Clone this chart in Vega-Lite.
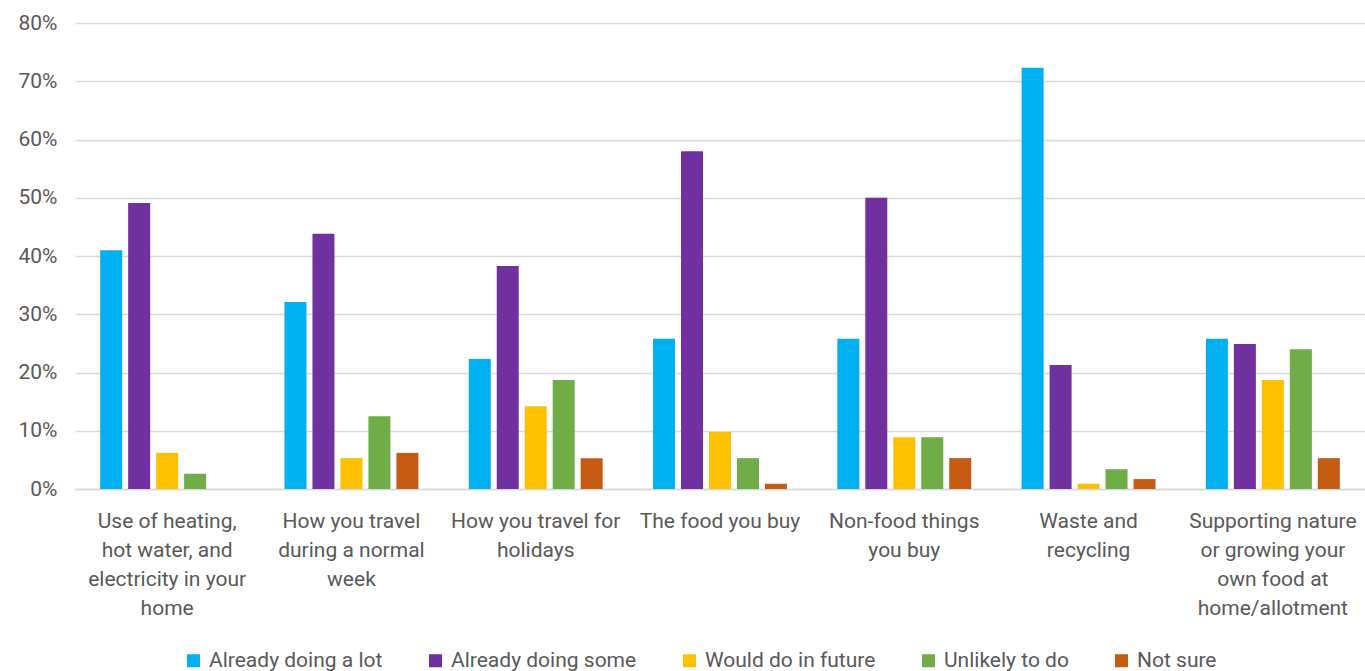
{
  "$schema": "https://vega.github.io/schema/vega-lite/v6.json",
  "width": 1290,
  "height": 466,
  "autosize": {"type": "none"},
  "padding": {"left": 75, "top": 23, "right": 0, "bottom": 182},
  "background": "white",
  "config": {
    "view": {"stroke": null},
    "font": "Roboto",
    "axis": {"labelFont": "Roboto", "labelColor": "#595959"},
    "legend": {"labelFont": "Roboto", "labelColor": "#595959"}
  },
  "data": {
    "values": [
      {"activity": "Use of heating,|hot water, and|electricity in your|home", "response": "Already doing a lot", "value": 0.410},
      {"activity": "Use of heating,|hot water, and|electricity in your|home", "response": "Already doing some", "value": 0.491},
      {"activity": "Use of heating,|hot water, and|electricity in your|home", "response": "Would do in future", "value": 0.062},
      {"activity": "Use of heating,|hot water, and|electricity in your|home", "response": "Unlikely to do", "value": 0.026},
      {"activity": "How you travel|during a normal|week", "response": "Already doing a lot", "value": 0.321},
      {"activity": "How you travel|during a normal|week", "response": "Already doing some", "value": 0.438},
      {"activity": "How you travel|during a normal|week", "response": "Would do in future", "value": 0.053},
      {"activity": "How you travel|during a normal|week", "response": "Unlikely to do", "value": 0.125},
      {"activity": "How you travel|during a normal|week", "response": "Not sure", "value": 0.062},
      {"activity": "How you travel for|holidays", "response": "Already doing a lot", "value": 0.223},
      {"activity": "How you travel for|holidays", "response": "Already doing some", "value": 0.383},
      {"activity": "How you travel for|holidays", "response": "Would do in future", "value": 0.142},
      {"activity": "How you travel for|holidays", "response": "Unlikely to do", "value": 0.187},
      {"activity": "How you travel for|holidays", "response": "Not sure", "value": 0.053},
      {"activity": "The food you buy", "response": "Already doing a lot", "value": 0.258},
      {"activity": "The food you buy", "response": "Already doing some", "value": 0.580},
      {"activity": "The food you buy", "response": "Would do in future", "value": 0.098},
      {"activity": "The food you buy", "response": "Unlikely to do", "value": 0.053},
      {"activity": "The food you buy", "response": "Not sure", "value": 0.009},
      {"activity": "Non-food things|you buy", "response": "Already doing a lot", "value": 0.258},
      {"activity": "Non-food things|you buy", "response": "Already doing some", "value": 0.500},
      {"activity": "Non-food things|you buy", "response": "Would do in future", "value": 0.089},
      {"activity": "Non-food things|you buy", "response": "Unlikely to do", "value": 0.089},
      {"activity": "Non-food things|you buy", "response": "Not sure", "value": 0.053},
      {"activity": "Waste and|recycling", "response": "Already doing a lot", "value": 0.723},
      {"activity": "Waste and|recycling", "response": "Already doing some", "value": 0.213},
      {"activity": "Waste and|recycling", "response": "Would do in future", "value": 0.009},
      {"activity": "Waste and|recycling", "response": "Unlikely to do", "value": 0.034},
      {"activity": "Waste and|recycling", "response": "Not sure", "value": 0.017},
      {"activity": "Supporting nature|or growing your|own food at|home/allotment", "response": "Already doing a lot", "value": 0.258},
      {"activity": "Supporting nature|or growing your|own food at|home/allotment", "response": "Already doing some", "value": 0.249},
      {"activity": "Supporting nature|or growing your|own food at|home/allotment", "response": "Would do in future", "value": 0.187},
      {"activity": "Supporting nature|or growing your|own food at|home/allotment", "response": "Unlikely to do", "value": 0.240},
      {"activity": "Supporting nature|or growing your|own food at|home/allotment", "response": "Not sure", "value": 0.053}
    ]
  },
  "mark": {"type": "bar"},
  "encoding": {
    "x": {
      "field": "activity",
      "type": "nominal",
      "sort": null,
      "scale": {"paddingInner": 0, "paddingOuter": 0},
      "axis": {
        "title": null,
        "labelAngle": 0,
        "labelExpr": "split(datum.label, '|')",
        "labelFontSize": 21,
        "labelLineHeight": 29,
        "labelPadding": 21,
        "labelLimit": 0,
        "labelOverlap": false,
        "ticks": false,
        "domain": true,
        "domainColor": "#d9d9d9",
        "domainWidth": 1.5
      }
    },
    "xOffset": {
      "field": "response",
      "type": "nominal",
      "sort": ["Already doing a lot", "Already doing some", "Would do in future", "Unlikely to do", "Not sure"],
      "scale": {"domain": ["Already doing a lot", "Already doing some", "Would do in future", "Unlikely to do", "Not sure"], "paddingInner": 0.214, "paddingOuter": 0.9}
    },
    "y": {
      "field": "value",
      "type": "quantitative",
      "scale": {"domain": [0, 0.8], "nice": false},
      "axis": {
        "title": null,
        "format": ".0%",
        "values": [0, 0.1, 0.2, 0.3, 0.4, 0.5, 0.6, 0.7, 0.8],
        "labelOverlap": false,
        "labelFontSize": 21,
        "labelPadding": 18,
        "ticks": false,
        "domain": false,
        "gridColor": "#d9d9d9",
        "gridWidth": 1.5
      }
    },
    "color": {
      "field": "response",
      "type": "nominal",
      "sort": ["Already doing a lot", "Already doing some", "Would do in future", "Unlikely to do", "Not sure"],
      "scale": {
        "domain": ["Already doing a lot", "Already doing some", "Would do in future", "Unlikely to do", "Not sure"],
        "range": ["#00b0f0", "#7030a0", "#ffc000", "#70ad47", "#c55a11"]
      },
      "legend": {
        "title": null,
        "orient": "none",
        "legendX": 108,
        "legendY": 627,
        "direction": "horizontal",
        "symbolType": "square",
        "symbolSize": 169,
        "symbolStrokeWidth": 0,
        "labelFontSize": 21,
        "labelLimit": 0,
        "labelOffset": 5,
        "columnPadding": 42
      }
    }
  }
}
